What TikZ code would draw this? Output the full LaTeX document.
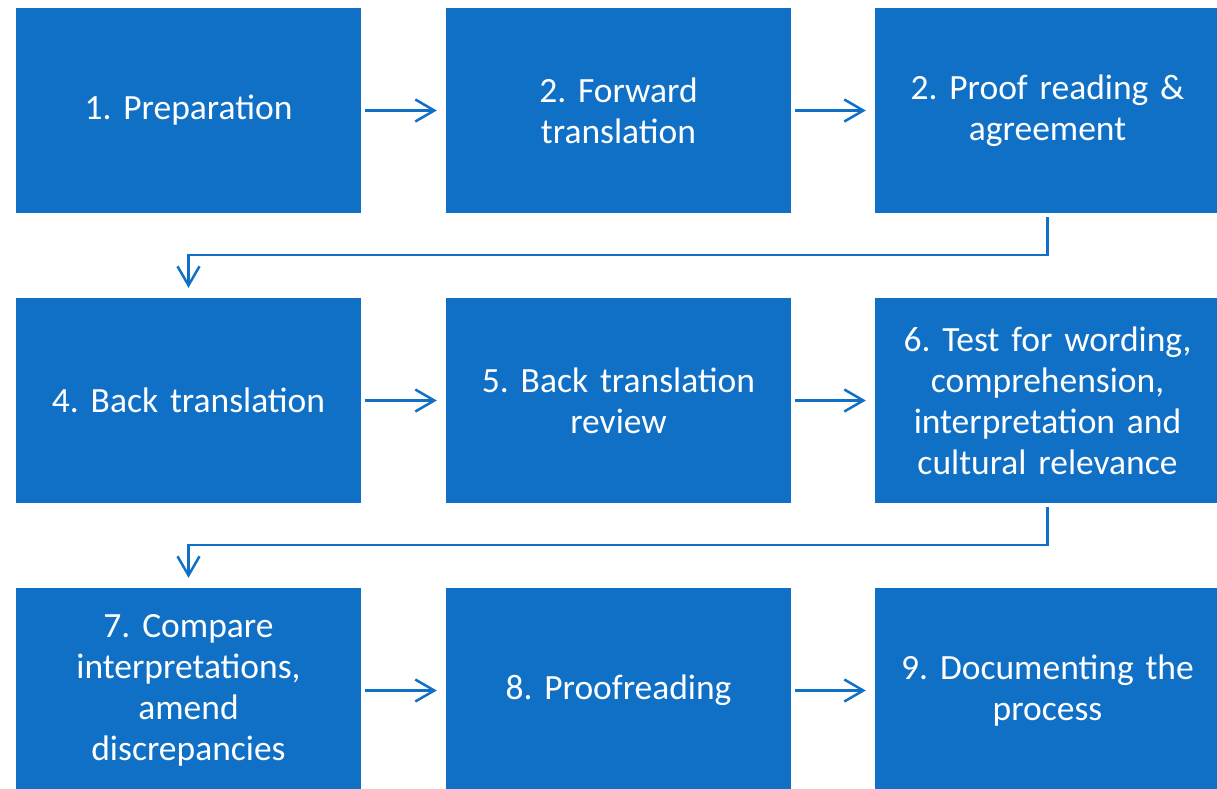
\documentclass[tikz,border=0pt]{standalone}
\usepackage{fontspec}
\setmainfont[WordSpace=0.75]{Carlito}
\usetikzlibrary{arrows.meta}
\definecolor{boxblue}{RGB}{16,112,198}
\frenchspacing
\begin{document}
\begin{tikzpicture}[x=1pt,y=-1pt,
  stepbox/.style={fill=boxblue,draw=none,minimum width=345pt,minimum height=205pt,inner sep=0pt,
    text=white,align=center,text width=335pt,font=\fontsize{35.5}{41}\selectfont\frenchspacing},
  conn/.style={draw=boxblue,line width=2.5pt,-{Straight Barb[length=19pt,width=22pt,line width=2.5pt]}}]
\useasboundingbox (0,0) rectangle (1217,788);
\clip (0,0) rectangle (1217,788);
\node[stepbox] (n1) at (188.5,110.5) {1. Preparation};
\node[stepbox] (n2) at (618.5,110.5) {2. Forward\\translation};
\node[stepbox] (n3) at (1047.5,110.5) {2. Proof reading \&\\agreement};
\node[stepbox] (n4) at (188.5,400.5) {4. Back translation};
\node[stepbox] (n5) at (618.5,400.5) {5. Back translation\\review};
\node[stepbox] (n6) at (1047.5,400.5) {6. Test for wording,\\comprehension,\\interpretation and\\cultural relevance};
\node[stepbox] (n7) at (188.5,690.5) {7. Compare\\interpretations,\\amend\\discrepancies};
\node[stepbox] (n8) at (618.5,690.5) {8. Proofreading};
\node[stepbox] (n9) at (1047.5,690.5) {9. Documenting the\\process};
\draw[conn] ([xshift=4pt]n1.east) -- ([xshift=-9pt]n2.west);
\draw[conn] ([xshift=4pt]n2.east) -- ([xshift=-9pt]n3.west);
\draw[conn] ([xshift=4pt]n4.east) -- ([xshift=-9pt]n5.west);
\draw[conn] ([xshift=4pt]n5.east) -- ([xshift=-9pt]n6.west);
\draw[conn] ([xshift=4pt]n7.east) -- ([xshift=-9pt]n8.west);
\draw[conn] ([xshift=4pt]n8.east) -- ([xshift=-9pt]n9.west);
\draw[conn] ([yshift=-4pt]n3.south) -- ++(0,38) -| ([yshift=10pt]n4.north);
\draw[conn] ([yshift=-4pt]n6.south) -- ++(0,38) -| ([yshift=10pt]n7.north);
\end{tikzpicture}
\end{document}
